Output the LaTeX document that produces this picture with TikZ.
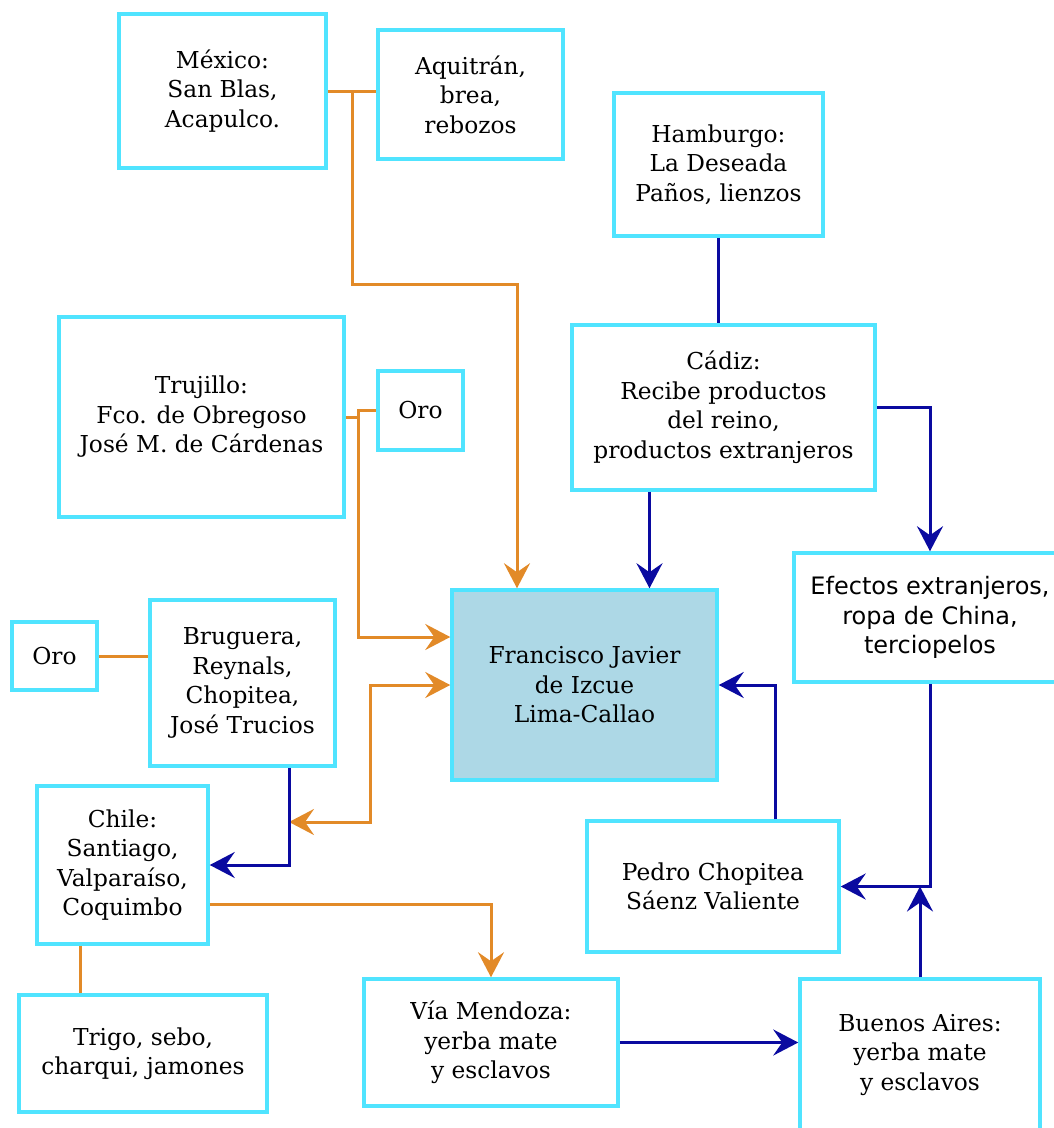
\documentclass[tikz,border=0pt]{standalone}
\usepackage{fontspec}
\setmainfont{DejaVu Serif}
\newfontfamily\sansfont{DejaVu Sans}
\usetikzlibrary{arrows.meta}
\definecolor{borde}{RGB}{80,228,255}
\definecolor{naranja}{RGB}{226,138,40}
\definecolor{azul}{RGB}{10,10,160}
\definecolor{centro}{RGB}{173,216,230}
\tikzset{
	lugar/.style={draw=borde, line width=3.5pt, align=center, inner sep=0pt,
		font=\fontsize{23.3}{29.5}\selectfont},
	ruta/.style={draw=naranja, line width=3pt},
	rutaazul/.style={draw=azul, line width=3pt},
	punta/.style={-{Stealth[length=25pt,width=26pt,inset=9pt]}}
}

\begin{document}
\begin{tikzpicture}[x=1pt,y=-1pt]
			\useasboundingbox (0,0) rectangle (1053,1128);
			
			% Cajas
			\node[lugar, minimum width=207pt, minimum height=154pt] (mexico) at (222.5,91) {México:\\San Blas,\\Acapulco.};
			\node[lugar, minimum width=185pt, minimum height=129pt] (aquitran) at (470.5,94.5) {Aquitrán,\\brea,\\rebozos};
			\node[lugar, minimum width=209pt, minimum height=143pt] (hamburgo) at (718.5,164.5) {Hamburgo:\\La Deseada\\Paños, lienzos};
			\node[lugar, minimum width=285pt, minimum height=200pt] (trujillo) at (201.5,417) {Trujillo:\\Fco. de Obregoso\\José M. de Cárdenas};
			\node[lugar, minimum width=85pt, minimum height=79pt] (oroA) at (420.5,410.5) {Oro};
			\node[lugar, minimum width=303pt, minimum height=165pt] (cadiz) at (723.5,407.5) {Cádiz:\\Recibe productos\\del reino,\\productos extranjeros};
			\node[lugar, minimum width=272pt, minimum height=129pt, font=\sansfont\fontsize{24}{29.5}\selectfont] (efectos) at (930,617.5) {Efectos extranjeros,\\ropa de China,\\terciopelos};
			\node[lugar, minimum width=85pt, minimum height=68pt] (oroB) at (54.5,656) {Oro};
			\node[lugar, minimum width=185pt, minimum height=166pt] (bruguera) at (242.5,683) {Bruguera,\\Reynals,\\Chopitea,\\José Trucios};
			\node[lugar, fill=centro, minimum width=265pt, minimum height=190pt] (francisco) at (584.5,685) {Francisco Javier\\de Izcue\\Lima-Callao};
			\node[lugar, minimum width=171pt, minimum height=158pt] (chile) at (122.5,865) {Chile:\\Santiago,\\Valparaíso,\\Coquimbo};
			\node[lugar, minimum width=252pt, minimum height=131pt] (pedro) at (713,886.5) {Pedro Chopitea\\Sáenz Valiente};
			\node[lugar, minimum width=248pt, minimum height=117pt] (trigo) at (143,1053.5) {Trigo, sebo,\\charqui, jamones};
			\node[lugar, minimum width=254pt, minimum height=127pt] (mendoza) at (491,1042.5) {Vía Mendoza:\\yerba mate\\y esclavos};
			\node[lugar, minimum width=240pt, minimum height=152pt] (buenos) at (920,1055) {Buenos Aires:\\yerba mate\\y esclavos};
			
			% Rutas del Pacifico
			\coordinate (mxunion) at (352,91);
			\coordinate (mxcodo) at (517,284);
			\draw[ruta] (mexico.east) -- (aquitran.west |- mexico.east);
			\draw[ruta,punta] (mxunion) |- (mxcodo) -- (mxcodo |- francisco.north);
			
			\coordinate (trunion) at (358,417);
			\draw[ruta] (trujillo.east) -- (trunion) |- (oroA.west);
			\draw[ruta,punta] (trunion) |- ([yshift=48pt]francisco.west);
			
			\draw[ruta] (oroB.east) -- (bruguera.west |- oroB.east);
			
			\coordinate (chpunta) at (289,822);
			\draw[ruta,{Stealth[length=25pt,width=26pt,inset=9pt]}-{Stealth[length=25pt,width=26pt,inset=9pt]}]
				(chpunta) -- ++(81,0) |- (francisco.west);
			
			\draw[ruta,punta] ([yshift=-39pt]chile.east) -| (mendoza.north);
			\draw[ruta] ([xshift=-42pt]chile.south) -- ([xshift=-42pt]chile.south |- trigo.north);
			
			% Rutas del Atlantico
			\draw[rutaazul] (hamburgo.south) -- (hamburgo.south |- cadiz.north);
			\draw[rutaazul,punta] ([xshift=-74pt]cadiz.south) -- ([xshift=-74pt]cadiz.south |- francisco.north);
			\draw[rutaazul,punta] (cadiz.east) -| (efectos.north);
			\draw[rutaazul,punta] (efectos.south) |- (pedro.east);
			\draw[rutaazul,punta] (buenos.north) -- (buenos.north |- pedro.east);
			\draw[rutaazul,punta] ([xshift=62pt]pedro.north) |- (francisco.east);
			\draw[rutaazul,punta] ([xshift=47pt]bruguera.south) |- (chile.east);
			\draw[rutaazul,punta] (mendoza.east) -- (buenos.west |- mendoza.east);
		\end{tikzpicture}
\end{document}
